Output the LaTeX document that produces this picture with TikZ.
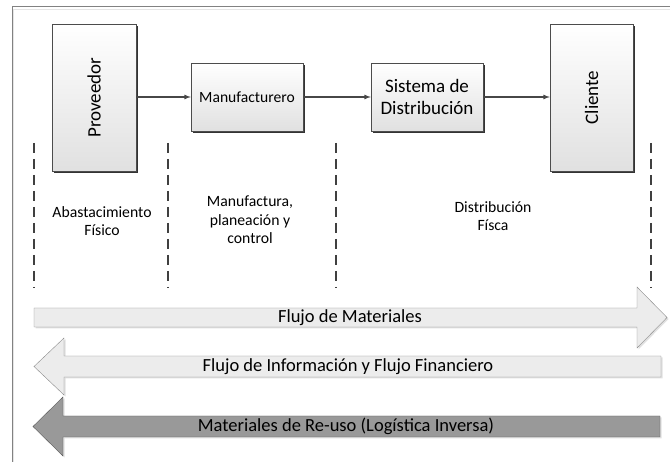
\documentclass[tikz,border=0pt]{standalone}
\usepackage{fontspec}
\setmainfont{Carlito}
\usepackage{graphicx}
\usetikzlibrary{arrows,shadows,calc,positioning}
\definecolor{frame-gray}{RGB}{130,130,130}
\definecolor{light-fill}{RGB}{236,236,236}
\definecolor{dark-fill}{RGB}{153,153,153}
\tikzstyle{stage}=[draw=black!70, top color=white, bottom color=black!12, drop shadow={shadow xshift=2pt,shadow yshift=-2pt,fill=black!80,opacity=1}, align=center, inner sep=0pt]
\tikzstyle{link}=[draw=black!72, line width=1.2pt, -latex]
\tikzstyle{divider}=[draw=black!75, line width=1.3pt, dash pattern=on 10pt off 6pt]
\tikzstyle{phase}=[align=center, font=\fontsize{15.7}{18.5}\selectfont]
\tikzstyle{flowtext}=[font=\fontsize{18.5}{20}\selectfont, inner sep=0pt]
\newcommand{\bigfont}{\fontsize{19}{22}\selectfont}
\newcommand{\flowArrowL}[5]{
	\fill[black!12, shift={(1.5,1.5)}] #2 -- #3 -- ($#3+(0,-#4)$) -- ($#3+(-30,#5/2)$) -- ($#3+(0,#5+#4)$) -- ($#3+(0,#5)$) -- ($#2+(0,#5)$) -- cycle;
	\draw[#1] #2 -- #3 -- ($#3+(0,-#4)$) -- ($#3+(-30,#5/2)$) -- ($#3+(0,#5+#4)$) -- ($#3+(0,#5)$) -- ($#2+(0,#5)$) -- cycle;
}

\begin{document}
\begin{tikzpicture}[x=1pt,y=-1pt]
	\useasboundingbox (0,0) rectangle (670,462);
	\draw[frame-gray, line width=1pt] (12,475) -- (12,7) -- (680,7);
	\draw[black!10, line width=0.6pt] (13.5,475) -- (13.5,9) -- (680,9);
	% stages of the chain
	\node[stage, font=\bigfont, minimum width=84pt, minimum height=147pt] (prov) at (94,97.5) {\rotatebox{90}{Proveedor}};
	\node[stage, font=\fontsize{15.6}{18}\selectfont, minimum width=112pt, minimum height=68pt] (manu) at (247,97) {Manufacturero};
	\node[stage, font=\bigfont, minimum width=112pt, minimum height=68pt] (dist) at (427,97) {Sistema de\\Distribución};
	\node[stage, font=\bigfont, minimum width=83pt, minimum height=147pt] (cli) at (591.5,97.5) {\rotatebox{90}{Cliente}};
	\draw[link] (prov.east |- manu) -- (manu);
	\draw[link] (manu) -- (dist);
	\draw[link] (dist) -- (cli.west |- dist);
	\foreach \x in {34,168,336,651}
		\draw[divider] (\x,143) -- (\x,288);
	\node[phase] (abas) at (102,221) {Abastacimiento\\Físico};
	\node[phase] (manf) at (250,220) {Manufactura,\\planeación y\\control};
	\node[phase] (fisc) at (493,216) {Distribución\\Físca};
	% big flows
	\fill[black!12] (35.5,309.5) -- (638.5,309.5) -- (638.5,288.5) -- (668.5,319) -- (638.5,349.5) -- (638.5,328.5) -- (35.5,328.5) -- cycle;
	\draw[draw=black!45, fill=light-fill] (34,308) -- (637,308) -- (637,287) -- (667,317.5) -- (637,348) -- (637,327) -- (34,327) -- cycle;
	\flowArrowL{draw=black!45, fill=light-fill}{(661,356)}{(64,356)}{18}{21}
	\flowArrowL{draw=black!65, fill=dark-fill}{(660,416)}{(63,416)}{19}{21}
	\node[flowtext] (mat) at (350,317.5) {Flujo de Materiales};
	\node[flowtext] (inf) at (348,366.5) {Flujo de Información y Flujo Financiero};
	\node[flowtext] (reu) at (346,426.5) {Materiales de Re-uso (Logística Inversa)};
\end{tikzpicture}
\end{document}
